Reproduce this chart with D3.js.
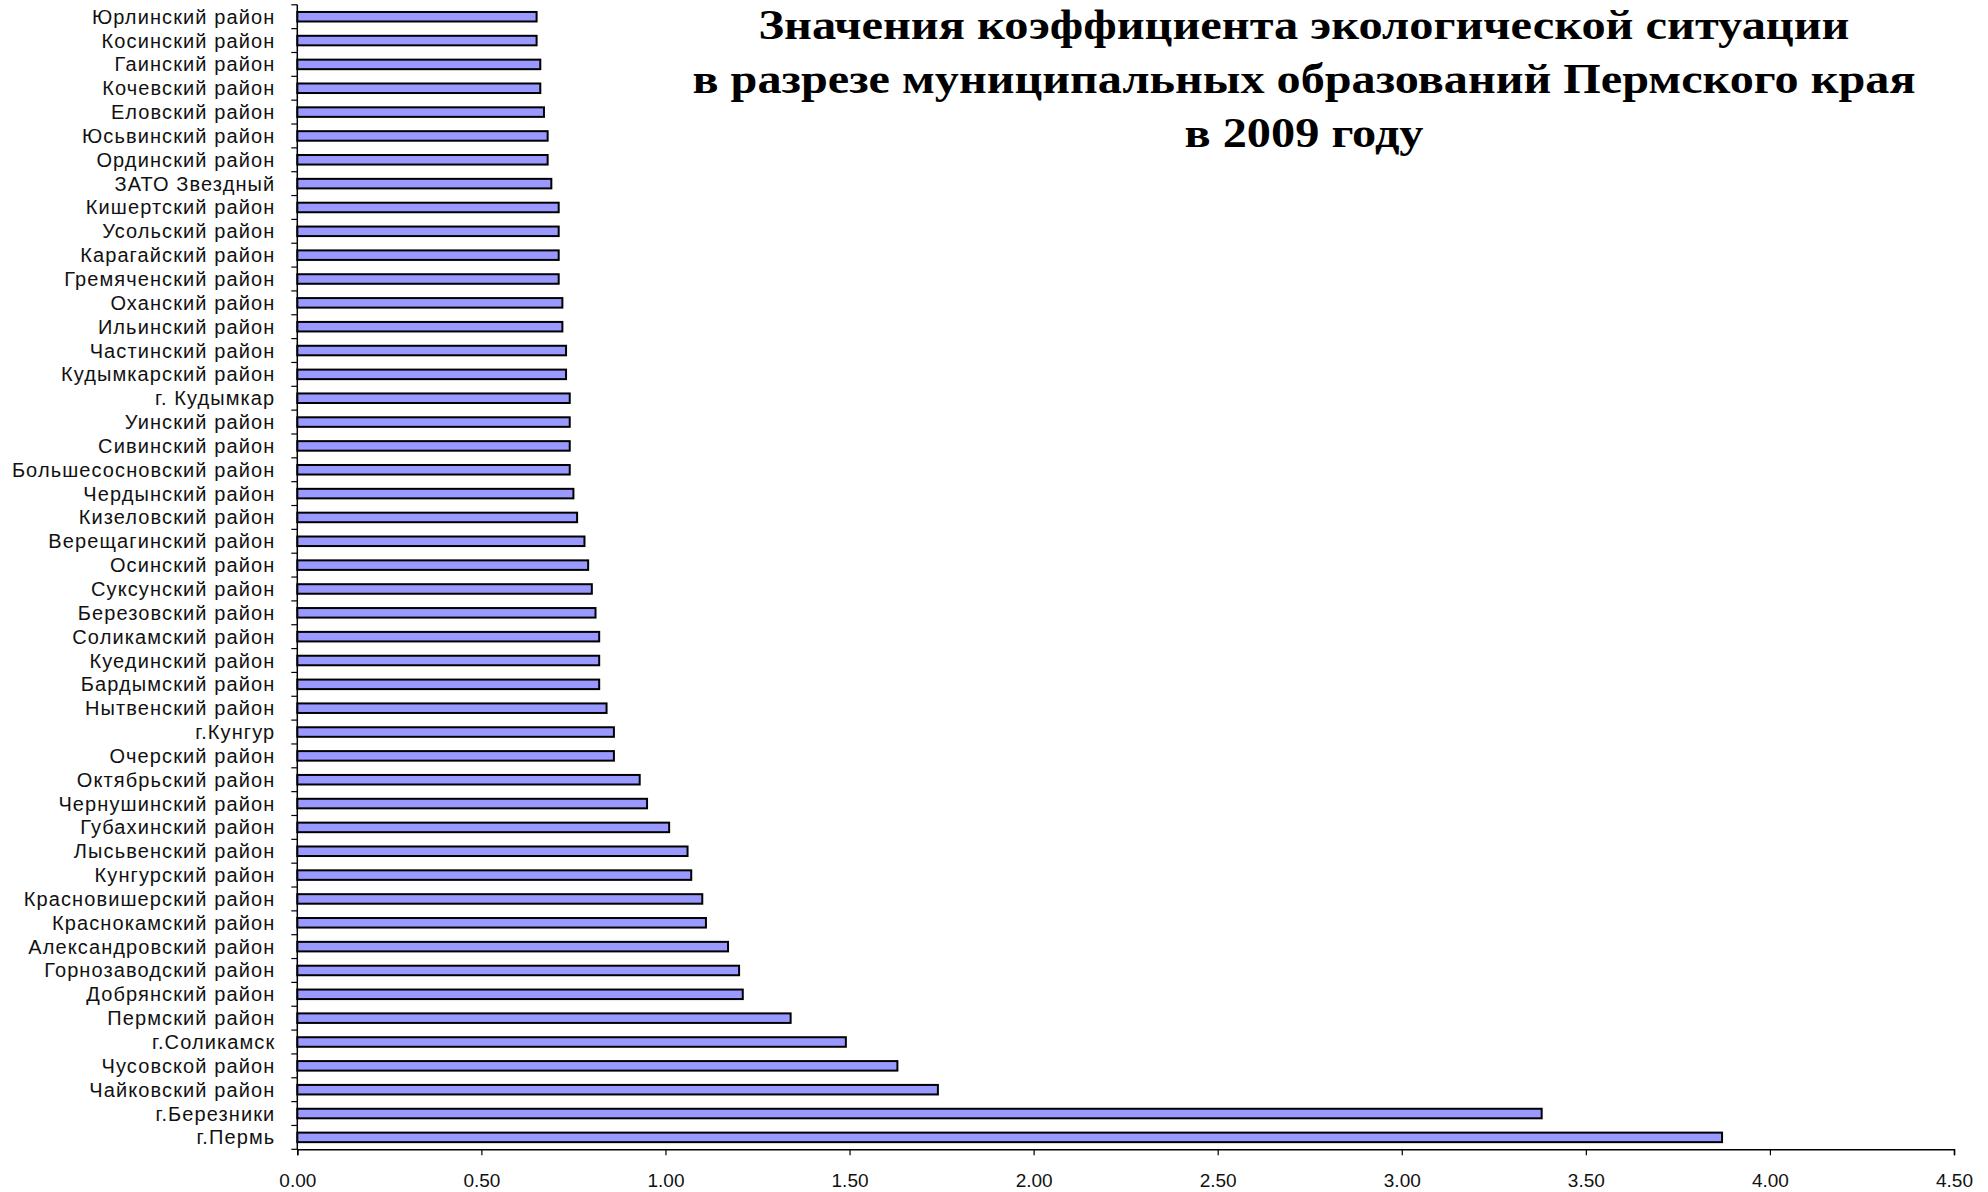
<!DOCTYPE html>
<html>
<head>
<meta charset="utf-8">
<script src="https://cdn.jsdelivr.net/npm/d3@7"></script>
<style>
  html, body { margin: 0; padding: 0; background: #fff; }
  svg { display: block; }
</style>
</head>
<body>
<svg id="chart" width="1988" height="1192"></svg>
<script>
const categories = [
  "Юрлинский район","Косинский район","Гаинский район","Кочевский район","Еловский район",
  "Юсьвинский район","Ординский район","ЗАТО Звездный","Кишертский район","Усольский район",
  "Карагайский район","Гремяченский район","Оханский район","Ильинский район","Частинский район",
  "Кудымкарский район","г. Кудымкар","Уинский район","Сивинский район","Большесосновский район",
  "Чердынский район","Кизеловский район","Верещагинский район","Осинский район","Суксунский район",
  "Березовский район","Соликамский район","Куединский район","Бардымский район","Нытвенский район",
  "г.Кунгур","Очерский район","Октябрьский район","Чернушинский район","Губахинский район",
  "Лысьвенский район","Кунгурский район","Красновишерский район","Краснокамский район","Александровский район",
  "Горнозаводский район","Добрянский район","Пермский район","г.Соликамск","Чусовской район",
  "Чайковский район","г.Березники","г.Пермь"
];
const values = [
  0.65,0.65,0.66,0.66,0.67,
  0.68,0.68,0.69,0.71,0.71,
  0.71,0.71,0.72,0.72,0.73,
  0.73,0.74,0.74,0.74,0.74,
  0.75,0.76,0.78,0.79,0.80,
  0.81,0.82,0.82,0.82,0.84,
  0.86,0.86,0.93,0.95,1.01,
  1.06,1.07,1.10,1.11,1.17,
  1.20,1.21,1.34,1.49,1.63,
  1.74,3.38,3.87
];
const xTicks = [0,0.5,1,1.5,2,2.5,3,3.5,4,4.5];
const titleLines = [
  "Значения коэффициента экологической ситуации",
  "в разрезе муниципальных образований Пермского края",
  "в 2009 году"
];

const data = categories.map((c, i) => ({ name: c, value: values[i] }));
const svg = d3.select("#chart");

const plot = { left: 297.3, right: 1954, top: 4.8, bottom: 1149.3 };

const x = d3.scaleLinear().domain([0, 4.5]).range([plot.left, plot.right]);
const y = d3.scaleBand().domain(categories).range([plot.top, plot.bottom])
  .paddingInner(0.6).paddingOuter(0.3);

// bars
svg.append("g").selectAll("rect").data(data).join("rect")
  .attr("x", x(0))
  .attr("y", d => y(d.name))
  .attr("width", d => x(d.value) - x(0))
  .attr("height", y.bandwidth())
  .attr("fill", "#9999FF")
  .attr("stroke", "#000")
  .attr("stroke-width", 2);

// y axis
const gy = svg.append("g");
gy.append("line")
  .attr("x1", x(0)).attr("x2", x(0))
  .attr("y1", plot.top).attr("y2", plot.bottom)
  .attr("stroke", "#000").attr("stroke-width", 1.5);
const step = y.step();
const boundaries = d3.range(categories.length + 1).map(i => plot.top + i * step);
gy.selectAll("line.tick").data(boundaries).join("line")
  .attr("class", "tick")
  .attr("x1", x(0) - 6).attr("x2", x(0))
  .attr("y1", d => d).attr("y2", d => d)
  .attr("stroke", "#000").attr("stroke-width", 1.2);
gy.selectAll("text").data(categories).join("text")
  .attr("x", x(0) - 22)
  .attr("y", d => y(d) + y.bandwidth() / 2)
  .attr("dy", "0.35em")
  .attr("text-anchor", "end")
  .attr("font-family", "'Liberation Sans', Arial, sans-serif")
  .attr("font-size", 20)
  .attr("letter-spacing", 1.1)
  .attr("fill", "#111")
  .text(d => d);

// x axis
const xAxis = d3.axisBottom(x).tickValues(xTicks).tickFormat(d3.format(".2f")).tickSize(6).tickPadding(18);
const gx = svg.append("g").attr("transform", `translate(0,${plot.bottom})`).call(xAxis);
gx.select(".domain").attr("stroke", "#000").attr("stroke-width", 1.5);
gx.selectAll(".tick line").attr("stroke", "#000").attr("stroke-width", 1.2);
gx.selectAll(".tick text")
  .attr("font-family", "'Liberation Sans', Arial, sans-serif")
  .attr("font-size", 19)
  .attr("fill", "#111");

// title
const titleCx = 1304;
const titleY = [39, 93, 147];
const titleW = [1091, 1223, 239];
svg.append("g").selectAll("text").data(titleLines).join("text")
  .attr("x", titleCx)
  .attr("y", (d, i) => titleY[i])
  .attr("text-anchor", "middle")
  .attr("font-family", "'Liberation Serif', 'Times New Roman', serif")
  .attr("font-weight", "bold")
  .attr("font-size", 43)
  .attr("textLength", (d, i) => titleW[i])
  .attr("lengthAdjust", "spacingAndGlyphs")
  .attr("fill", "#000")
  .text(d => d);
</script>
</body>
</html>
